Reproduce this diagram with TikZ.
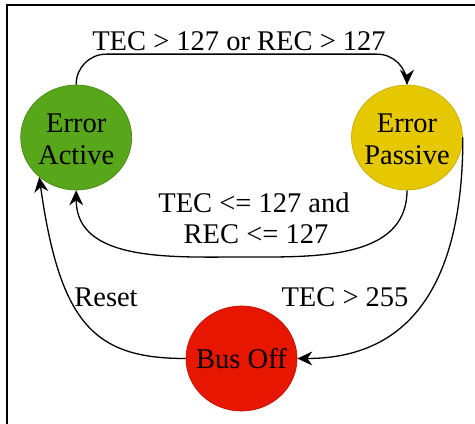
\documentclass[tikz,border=0pt]{standalone}
\usepackage{fontspec}
\setmainfont{Liberation Serif}
\usetikzlibrary{shapes.geometric,arrows.meta}

\definecolor{activefill}{RGB}{88,166,25}
\definecolor{activeedge}{RGB}{72,135,22}
\definecolor{passivefill}{RGB}{230,200,0}
\definecolor{passiveedge}{RGB}{200,172,0}
\definecolor{busofffill}{RGB}{230,22,0}
\definecolor{busoffedge}{RGB}{190,18,0}

\newcommand{\diagfont}{\fontsize{28.5}{32}\selectfont}

\tikzset{
  state/.style={ellipse, minimum width=111pt, minimum height=105pt,
    inner sep=0pt, line width=0.7pt},
  statetext/.style={align=center, inner sep=0pt, font=\diagfont},
  conn/.style={line width=1.3pt, -{Stealth[length=15pt,width=14pt,inset=5pt]}},
  edgelabel/.style={anchor=base, inner sep=0pt, font=\diagfont},
}

\begin{document}
\begin{tikzpicture}[x=1pt,y=1pt]
  \useasboundingbox (0,0) rectangle (475,424);

  % outer frame: only its left and top sides are on the page
  \draw[line width=2pt] (7,0) -- (7,419) -- (475,419);

  % states
  \node[state, fill=activefill, draw=activeedge] (A) at (76.2,286.5) {};
  \node[state, fill=passivefill, draw=passiveedge] (P) at (407,286.5) {};
  \node[state, fill=busofffill, draw=busoffedge] (B) at (241.5,65.5) {};

  \node[statetext] (Atext) at ([yshift=-2pt]A.center) {Error\\Active};
  \node[statetext] (Ptext) at ([yshift=-2pt]P.center) {Error\\Passive};
  \node[statetext] (Btext) at (B.center) {Bus Off};

  % transitions
  \draw[conn, rounded corners=30pt] (A.north) -- ++(0,30.5) -| (P.north);

  \draw[conn] (P.south) .. controls +(0,-70) and +(70,0) .. (243,167)
              .. controls +(-70,0) and +(0,-72) .. (A.south);

  \draw[conn] (P.east) .. controls +(0,-150) and +(110,0) .. (B.east);

  \draw[conn] (B.west) .. controls +(-90,0) and +(-82:150) .. (A.227);

  % transition labels
  \node[edgelabel] (lup) at (239,373.3) {TEC > 127 or REC > 127};
  \node[edgelabel] (ldown1) at (254,211) {TEC <= 127 and};
  \node[edgelabel] (ldown2) at (256,180) {REC <= 127};
  \node[edgelabel] (lreset) at (106,117) {Reset};
  \node[edgelabel] (lbusoff) at (345,117) {TEC > 255};
\end{tikzpicture}
\end{document}
